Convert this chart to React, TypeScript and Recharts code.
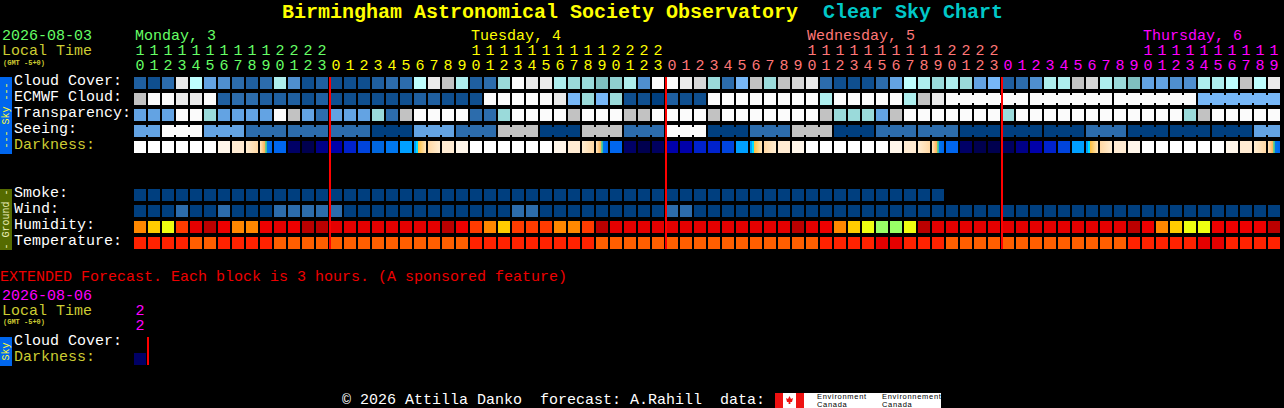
import { ScatterChart, Scatter, XAxis, YAxis, ReferenceLine } from "recharts";

// hour of day under each column (Monday 10h .. Thursday 19h)
const hours = [
  10, 11, 12, 13, 14, 15, 16, 17, 18, 19, 20, 21, 22, 23,
  0, 1, 2, 3, 4, 5, 6, 7, 8, 9, 10, 11, 12, 13, 14, 15, 16, 17, 18, 19, 20, 21, 22, 23,
  0, 1, 2, 3, 4, 5, 6, 7, 8, 9, 10, 11, 12, 13, 14, 15, 16, 17, 18, 19, 20, 21, 22, 23,
  0, 1, 2, 3, 4, 5, 6, 7, 8, 9, 10, 11, 12, 13, 14, 15, 16, 17, 18, 19,
];
const dayNames = ["Monday, 3", "Tuesday, 4", "Wednesday, 5", "Thursday, 6"];
const midnightCols = [14, 38, 62];

const cloudCover = [
  2, 1, 3, 14, 11, 5, 4, 3, 2, 3, 10, 4, 1, 2, 1, 1, 1, 2, 3, 3, 11, 14,
  12, 10, 2, 3, 9, 15, 14, 14, 10, 9, 9, 7, 8, 10, 4, 15, 15, 14, 13, 9, 3, 6, 12, 9, 12, 13, 14, 3, 1, 1,
  1, 3, 5, 11, 10, 9, 10, 9, 5, 6, 2, 3, 4, 10, 10, 12, 13, 10, 9, 7, 5, 5, 4, 4, 10, 10, 11, 12, 11, 14,
];
const ecmwfCloud = [
  12, 15, 15, 14, 14, 15, 2, 3, 3, 2, 2, 2, 1, 2, 1, 1, 1, 1, 1, 1, 2, 2,
  1, 1, 1, 15, 15, 15, 15, 15, 14, 6, 9, 6, 9, 1, 1, 0, 2, 1, 1, 15, 15, 15, 15, 15, 15, 15, 15, 10, 15, 15,
  15, 15, 15, 10, 12, 14, 15, 15, 15, 15, 15, 15, 15, 15, 15, 15, 15, 15, 15, 15, 15, 15, 15, 15, 6, 6, 6, 6, 6, 6,
];
const transparency = [
  5, 5, 5, 15, 15, 9, 5, 5, 5, 5, 15, 12, 5, 3, 5, 5, 5, 9, 3, 12, 15, 15,
  15, 15, 3, 3, 9, 15, 15, 15, 15, 12, 15, 15, 15, 12, 12, 15, 15, 15, 15, 12, 15, 15, 15, 15, 15, 15, 15, 12, 9, 9,
  9, 5, 12, 15, 15, 15, 15, 15, 15, 15, 9, 15, 15, 15, 15, 15, 15, 15, 15, 15, 15, 15, 15, 9, 12, 15, 15, 15, 15, 15,
];
const seeing = [
  5, 5, 15, 15, 15, 5, 5, 5, 3, 3, 3, 3, 3, 3, 3, 3, 3, 0, 0, 0, 5, 5,
  5, 3, 3, 3, 12, 12, 12, 0, 0, 0, 12, 12, 12, 3, 3, 3, 15, 15, 15, 0, 0, 0, 3, 3, 3, 12, 12, 12, 0, 0,
  0, 3, 3, 3, 3, 3, 3, 0, 0, 0, 0, 0, 0, 0, 0, 0, 3, 3, 3, 0, 0, 0, 0, 0, 0, 0, 0, 0, 5, 5,
];
const darkness = [
  0, 0, 0, 0, 0, 0, 1, 2, 3, 4, 7, 8, 9, 11, 12, 13, 14, 15, 16, 17, 5, 6,
  2, 1, 0, 0, 0, 0, 0, 0, 1, 2, 3, 4, 7, 8, 9, 10, 12, 12, 13, 13, 14, 17, 5, 6, 2, 1, 0, 0, 0, 0,
  0, 0, 1, 2, 3, 4, 7, 8, 9, 9, 10, 11, 12, 13, 14, 17, 5, 6, 2, 1, 0, 0, 0, 0, 0, 0, 1, 2, 3, 4,
];
const smoke = [
  0, 0, 0, 0, 0, 0, 0, 0, 0, 0, 0, 0, 0, 0, 0, 0, 0, 0, 0, 0, 0, 0, 0, 0, 0, 0, 0, 0, 0,
  0, 0, 0, 0, 0, 0, 0, 0, 0, 0, 0, 0, 0, 0, 0, 0, 0, 0, 0, 0, 0, 0, 0, 0, 0, 0, 0, 0, 0,
];
const wind = [
  0, 0, 0, 3, 0, 0, 3, 0, 0, 0, 3, 3, 3, 3, 3, 0, 0, 0, 0, 0, 0, 0,
  0, 0, 0, 0, 0, 3, 3, 0, 0, 0, 0, 0, 0, 0, 0, 0, 3, 3, 0, 0, 0, 0, 0, 0, 0, 0, 0, 0, 0, 0,
  0, 0, 0, 0, 0, 0, 0, 0, 0, 0, 0, 0, 0, 0, 0, 0, 0, 0, 0, 0, 0, 0, 0, 0, 0, 0, 0, 0, 0, 0,
];
const humidity = [
  0, 1, 2, 3, 4, 5, 6, 0, 0, 6, 4, 6, 5, 5, 4, 4, 4, 4, 4, 4, 4, 4,
  5, 6, 3, 0, 1, 3, 3, 3, 0, 0, 3, 5, 4, 4, 4, 4, 4, 4, 4, 4, 4, 4, 4, 4, 4, 5, 4, 6, 0, 1,
  2, 7, 7, 2, 5, 4, 4, 4, 4, 4, 4, 4, 4, 4, 4, 4, 4, 4, 4, 5, 6, 0, 1, 2, 2, 6, 6, 6, 6, 5,
];
const temperature = [
  0, 0, 0, 0, 1, 1, 0, 0, 0, 0, 1, 1, 1, 1, 1, 1, 1, 1, 1, 1, 1, 1,
  1, 1, 0, 0, 0, 0, 0, 0, 0, 0, 0, 1, 1, 1, 1, 1, 1, 1, 1, 1, 1, 1, 1, 1, 1, 1, 1, 0, 0, 0,
  0, 2, 2, 0, 0, 0, 1, 1, 1, 1, 1, 1, 1, 1, 1, 1, 1, 1, 1, 0, 0, 0, 0, 0, 2, 2, 0, 0, 0, 0,
];
const extHours = [22];
const extDarkness = [8];

const skyColors = [
  "#003F7F", "#0F4F8F", "#1F5FA0", "#2C6CAC", "#4F8FCF", "#63A3E3", "#77B7F7", "#7FBFBF",
  "#8FCFCF", "#9ADADA", "#AEEEEE", "#BEFEFE", "#C2C2C2", "#D6D6D6", "#EAEAEA", "#FBFBFB",
];
const darkColors = [
  "#FFFFFF", "#FFF6EA", "#FFEBD2", "url(#eveningCream)", "url(#dusk)", "url(#dawn)", "url(#morningCream)",
  "#0066EE", "#000066", "#00004F", "#00005F", "#000088", "#0000AA", "#0022CC", "#0044DD", "#0066DD", "#0077EE", "#00A0FF",
];
const humidColors = ["#FF8800", "#FFCC00", "#EEFF11", "#FF3B00", "#E40000", "#BB0000", "#EE0000", "#99FF66"];
const tempColors = ["#FF2200", "#FF5E00", "#E40000"];

const FONT = "'Liberation Mono', monospace";
const WHITE = "#FFFFFF";
const OLIVE = "#CCCC33";
const dayColors = ["#66FF66", "#FFFF00", "#FF7777", "#FF00FF"];

const dayOfCol = (col: number) => midnightCols.filter((m) => col >= m).length;

const CELL = 12;
const CellShape = (props: any) => {
  const { cx, cy, payload } = props;
  return (
    <g>
      <rect x={cx} y={cy - CELL / 2} width={CELL} height={CELL} fill={payload.fill} />
      {payload.joined && <rect x={cx + CELL} y={cy - 4} width={2} height={8} fill={payload.fill} />}
    </g>
  );
};

const cellsFor = (values: number[], slot: number, colors: string[], joined?: (col: number) => boolean) =>
  values.map((v, col) => ({ col, slot, fill: colors[v], joined: joined ? joined(col) : false }));

const seeingJoined = (col: number) => col < 81 && (col + 2) % 3 !== 0;
const ecmwfJoined = (col: number) => col >= 58 && col < 81 && (col - 57) % 6 !== 0;

const rows = [
  { label: "Cloud Cover:", slot: 0, cells: cellsFor(cloudCover, 0, skyColors) },
  { label: "ECMWF Cloud:", slot: 1, cells: cellsFor(ecmwfCloud, 1, skyColors, ecmwfJoined) },
  { label: "Transparency:", slot: 2, cells: cellsFor(transparency, 2, skyColors) },
  { label: "Seeing:", slot: 3, cells: cellsFor(seeing, 3, skyColors, seeingJoined) },
  { label: "Darkness:", slot: 4, color: OLIVE, cells: cellsFor(darkness, 4, darkColors) },
  { label: "Smoke:", slot: 7, cells: cellsFor(smoke, 7, skyColors) },
  { label: "Wind:", slot: 8, cells: cellsFor(wind, 8, skyColors) },
  { label: "Humidity:", slot: 9, cells: cellsFor(humidity, 9, humidColors) },
  { label: "Temperature:", slot: 10, cells: cellsFor(temperature, 10, tempColors) },
];
const extRows = [
  { label: "Cloud Cover:", slot: 0, cells: [] as any[] },
  { label: "Darkness:", slot: 1, color: OLIVE, cells: cellsFor(extDarkness, 1, darkColors) },
];

const RowTick = (list: { label: string; slot: number; color?: string }[]) => (props: any) => {
  const row = list.find((r) => r.slot === props.payload.value);
  if (!row) return <g />;
  return (
    <text x={14} y={props.y + 2} fontFamily={FONT} fontSize={15} fill={row.color || WHITE}>
      {row.label}
    </text>
  );
};

const HourTick = (hourList: number[], colorOf: (col: number) => string, withDays: boolean) => (props: any) => {
  const col = props.payload.value;
  const h = hourList[col];
  const color = colorOf(col);
  const cx = props.x + 6;
  const top = props.y;
  return (
    <g fontFamily={FONT} fontSize={15} fill={color}>
      {withDays && h === 10 && (
        <text x={props.x + 1} y={top - 35}>
          {dayNames[dayOfCol(col)]}
        </text>
      )}
      {h >= 10 && (
        <text x={cx} y={top - 20} textAnchor="middle">
          {Math.floor(h / 10)}
        </text>
      )}
      <text x={cx} y={top - 5} textAnchor="middle">
        {h % 10}
      </text>
    </g>
  );
};

const Gradients = () => (
  <defs>
    <linearGradient id="eveningCream">
      <stop offset="0" stopColor="#FFEDD2" />
      <stop offset="1" stopColor="#FFD8A4" />
    </linearGradient>
    <linearGradient id="morningCream">
      <stop offset="0" stopColor="#FFD8A4" />
      <stop offset="1" stopColor="#FFEDD2" />
    </linearGradient>
    <linearGradient id="dusk">
      <stop offset="0" stopColor="#FFE6C0" />
      <stop offset="0.42" stopColor="#FFB050" />
      <stop offset="0.46" stopColor="#66CC88" />
      <stop offset="0.56" stopColor="#33BBAA" />
      <stop offset="0.6" stopColor="#0077EE" />
      <stop offset="1" stopColor="#0066EE" />
    </linearGradient>
    <linearGradient id="dawn">
      <stop offset="0" stopColor="#00A0FF" />
      <stop offset="0.16" stopColor="#00A0FF" />
      <stop offset="0.18" stopColor="#00DDFF" />
      <stop offset="0.32" stopColor="#00DDFF" />
      <stop offset="0.36" stopColor="#FFC040" />
      <stop offset="1" stopColor="#FFE6C0" />
    </linearGradient>
  </defs>
);

const SideTab = ({ y, h, fill, color, text }: { y: number; h: number; fill: string; color: string; text: string }) => (
  <g>
    <rect x={0} y={y} width={12} height={h} fill={fill} />
    <text
      x={6}
      y={y + h / 2}
      transform={`rotate(-90 6 ${y + h / 2})`}
      textAnchor="middle"
      dominantBaseline="central"
      fontFamily={FONT}
      fontSize={10}
      fill={color}
    >
      {text}
    </text>
  </g>
);

const Labels = () => (
  <svg width={1284} height={408} style={{ position: "absolute", left: 0, top: 0 }}>
    <g fontFamily={FONT} fontWeight="bold" fontSize={20} style={{ whiteSpace: "pre" }}>
      <text x={282} y={18} fill="#FFFF00">
        Birmingham Astronomical Society Observatory
      </text>
      <text x={823} y={18} fill="#00C8C8">
        Clear Sky Chart
      </text>
    </g>
    <g fontFamily={FONT} fontSize={15}>
      <text x={2} y={40} fill="#66FF66">
        2026-08-03
      </text>
      <text x={2} y={55} fill={OLIVE}>
        Local Time
      </text>
      <text x={0} y={281} fill="#EE0000">
        EXTENDED Forecast. Each block is 3 hours. (A sponsored feature)
      </text>
      <text x={2} y={300} fill="#FF00FF">
        2026-08-06
      </text>
      <text x={2} y={315} fill={OLIVE}>
        Local Time
      </text>
      <text x={342} y={404} fill={WHITE} style={{ whiteSpace: "pre" }}>
        {"© 2026 Attilla Danko  forecast: A.Rahill  data:"}
      </text>
    </g>
    <g fontFamily={FONT} fontWeight="bold" fontSize={7} fill={OLIVE}>
      <text x={3} y={65}>
        (GMT -5+0)
      </text>
      <text x={3} y={324}>
        (GMT -5+0)
      </text>
    </g>
    <SideTab y={77} h={77} fill="#0066EE" color="#FFFF33" text="--- Sky ---" />
    <SideTab y={189} h={61} fill="#556B00" color="#EEEEBB" text="- Ground -" />
    <SideTab y={337} h={29} fill="#0066EE" color="#FFFF33" text="Sky" />
    <rect x={775} y={393} width={29} height={15} fill="#FFFFFF" />
    <rect x={775} y={393} width={8} height={15} fill="#EE1111" />
    <rect x={796} y={393} width={8} height={15} fill="#EE1111" />
    <path d="M789.5 396 l1.5 3 2-1 -1 4 h-1.6 v2 h-1.8 v-2 h-1.6 l-1-4 2 1z" fill="#EE1111" />
    <rect x={804} y={393} width={137} height={15} fill="#FFFFFF" />
    <g fontFamily="'Liberation Sans', sans-serif" fontSize={7.5} letterSpacing={0.7} fill="#000000">
      <text x={817} y={399}>
        Environment
      </text>
      <text x={817} y={407}>
        Canada
      </text>
      <text x={882} y={399}>
        Environnement
      </text>
      <text x={882} y={407}>
        Canada
      </text>
    </g>
  </svg>
);

const allCols = hours.map((_, col) => col);
const RED = "#FF0000";

export default function App() {
  return (
    <div style={{ position: "absolute", left: 0, top: 0, width: 1284, height: 408, background: "#000000", overflow: "hidden" }}>
      <Labels />
      <div style={{ position: "absolute", left: 0, top: 0 }}>
        <ScatterChart width={1284} height={260} margin={{ top: 45, right: 2, bottom: 9, left: 0 }}>
          <Gradients />
          <XAxis
            xAxisId={0}
            orientation="top"
            type="number"
            dataKey="col"
            domain={[0, 82]}
            ticks={allCols}
            interval={0}
            height={30}
            axisLine={false}
            tickLine={false}
            tickSize={0}
            tickMargin={0}
            tick={HourTick(hours, (col) => dayColors[dayOfCol(col)], true)}
          />
          <YAxis
            yAxisId={0}
            type="number"
            dataKey="slot"
            reversed
            domain={[-0.5, 10.5]}
            ticks={rows.map((r) => r.slot)}
            interval={0}
            width={134}
            axisLine={false}
            tickLine={false}
            tick={RowTick(rows)}
          />
          {rows.map((r) => (
            <Scatter key={r.label} data={r.cells} shape={CellShape} isAnimationActive={false} />
          ))}
          {midnightCols.map((c) => (
            <ReferenceLine
              key={c}
              segment={[
                { x: c, y: -0.375 },
                { x: c, y: 10.375 },
              ]}
              stroke={RED}
              strokeWidth={2}
              isFront
              {...({ zIndex: 5000 } as any)}
            />
          ))}
        </ScatterChart>
      </div>
      <div style={{ position: "absolute", left: 0, top: 280 }}>
        <ScatterChart width={1284} height={100} margin={{ top: 25, right: 2, bottom: 13, left: 0 }}>
          <XAxis
            xAxisId={0}
            orientation="top"
            type="number"
            dataKey="col"
            domain={[0, 82]}
            ticks={[0]}
            interval={0}
            height={30}
            axisLine={false}
            tickLine={false}
            tickSize={0}
            tickMargin={0}
            tick={HourTick(extHours, () => "#FF00FF", false)}
          />
          <YAxis
            yAxisId={0}
            type="number"
            dataKey="slot"
            reversed
            domain={[-0.5, 1.5]}
            ticks={[0, 1]}
            interval={0}
            width={134}
            axisLine={false}
            tickLine={false}
            tick={RowTick(extRows)}
          />
          <Scatter data={extRows[1].cells} shape={CellShape} isAnimationActive={false} />
          <ReferenceLine
            segment={[
              { x: 1, y: -0.375 },
              { x: 1, y: 1.375 },
            ]}
            stroke={RED}
            strokeWidth={2}
            isFront
            {...({ zIndex: 5000 } as any)}
          />
        </ScatterChart>
      </div>
    </div>
  );
}
